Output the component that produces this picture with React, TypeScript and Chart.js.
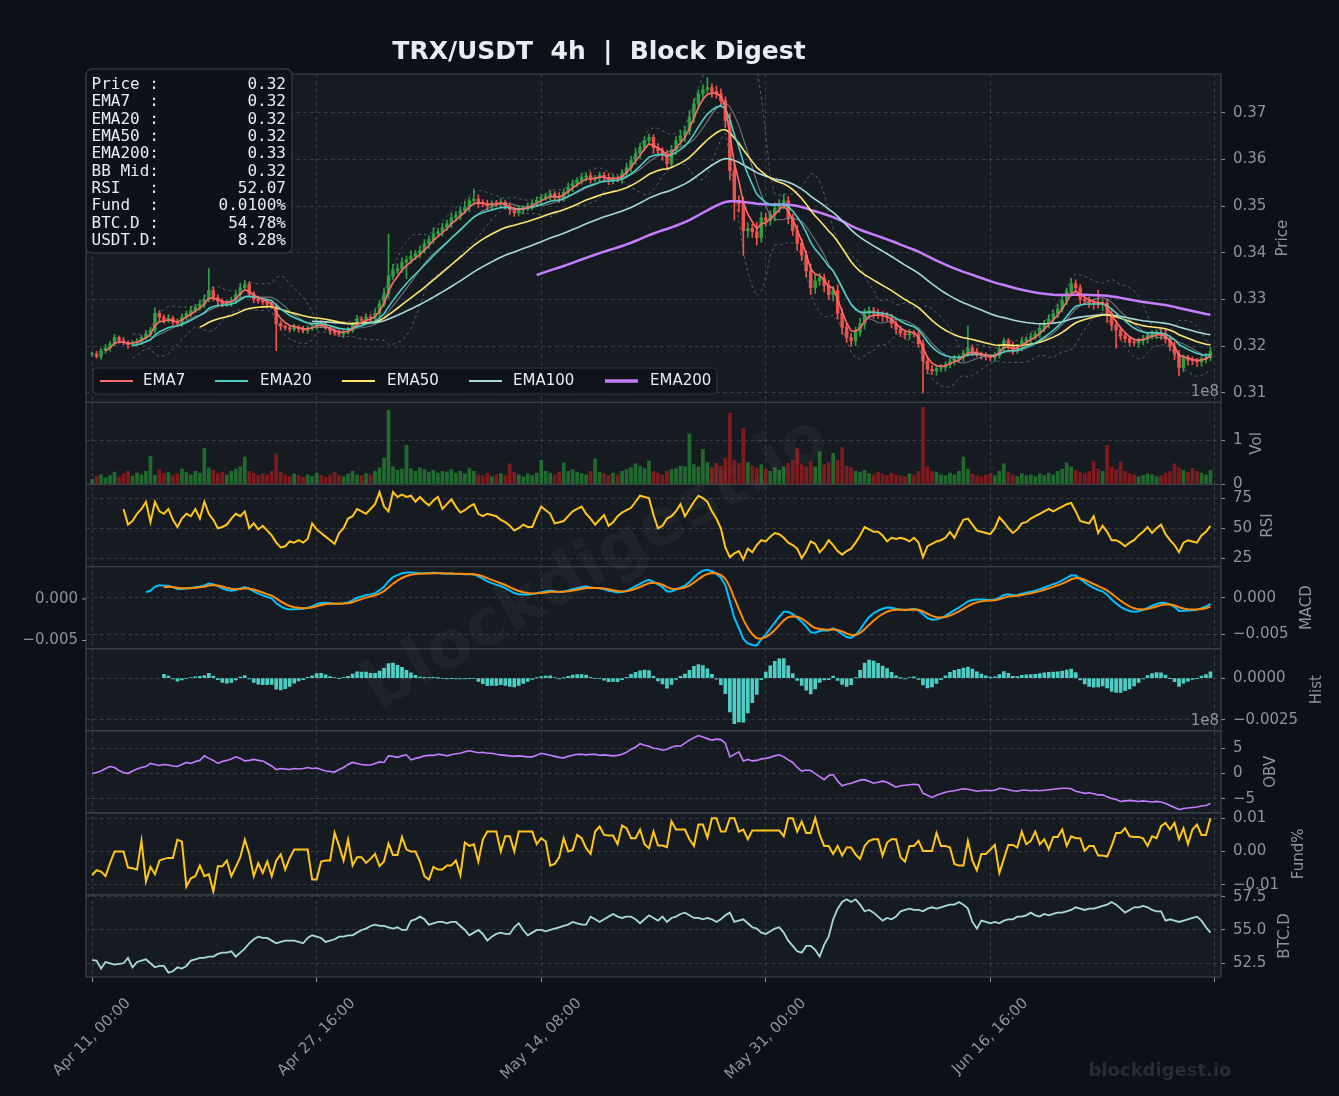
import React, { useEffect, useRef } from 'react';
import { Chart, registerables } from 'chart.js';

Chart.register(...registerables);

const W = 1339;
const H = 1096;

// Each sample spans two 4h bars; x positions are expressed in 4h-bar units.
const BAR_STEP = 2;
const xTickBars = [0, 100, 200, 300, 400, 500];
const xTickLabels = ['Apr 11, 00:00', 'Apr 27, 16:00', 'May 14, 08:00', 'May 31, 00:00', 'Jun 16, 16:00', ''];

// Close prices (x 1e-4 USDT)
const closeE4 = [
  3183, 3178, 3190, 3196, 3205, 3218, 3212, 3208, 3203, 3207,
  3210, 3218, 3225, 3233, 3270, 3262, 3255, 3260, 3252, 3248,
  3262, 3270, 3276, 3283, 3290, 3300, 3319, 3304, 3296, 3290,
  3292, 3297, 3310, 3325, 3332, 3312, 3300, 3297, 3294, 3290,
  3286, 3248, 3242, 3239, 3236, 3240, 3237, 3233, 3238, 3240,
  3250, 3246, 3239, 3232, 3228, 3226, 3230, 3233, 3245, 3258,
  3255, 3262, 3260, 3270, 3290, 3312, 3350, 3361, 3366, 3380,
  3385, 3392, 3398, 3405, 3419, 3428, 3441, 3445, 3454, 3462,
  3475, 3480, 3490, 3498, 3511, 3515, 3508, 3505, 3500, 3506,
  3505, 3508, 3500, 3492, 3486, 3492, 3496, 3500, 3506, 3512,
  3518, 3522, 3526, 3520, 3518, 3530, 3540, 3548, 3555, 3561,
  3565, 3558, 3561, 3566, 3561, 3556, 3560, 3558, 3570, 3582,
  3598, 3612, 3625, 3640, 3647, 3625, 3618, 3612, 3591, 3620,
  3640, 3650, 3661, 3690, 3719, 3740, 3750, 3754, 3745, 3741,
  3726, 3683, 3576, 3512, 3505, 3447, 3452, 3445, 3432, 3475,
  3469, 3482, 3495, 3505, 3511, 3475, 3447, 3420, 3395, 3361,
  3325, 3340, 3346, 3330, 3310, 3319, 3270, 3240, 3218, 3211,
  3230, 3248, 3270, 3276, 3270, 3268, 3264, 3261, 3248, 3236,
  3228, 3224, 3228, 3226, 3205, 3168, 3150, 3147, 3152, 3154,
  3160, 3168, 3172, 3175, 3185, 3196, 3188, 3183, 3180, 3177,
  3175, 3180, 3195, 3211, 3200, 3190, 3198, 3211, 3215, 3220,
  3226, 3238, 3248, 3258, 3269, 3280, 3297, 3315, 3334, 3325,
  3300, 3297, 3293, 3291, 3290, 3292, 3270, 3245, 3235, 3222,
  3216, 3208, 3207, 3211, 3215, 3222, 3226, 3228, 3226, 3215,
  3200, 3183, 3154, 3175, 3170, 3168, 3166, 3172, 3175, 3188,
];

// Upper wick beyond the body (x 1e-4)
const highWickE4 = [
  4, 6, 5, 8, 5, 7, 4, 6, 3, 5,
  6, 5, 8, 7, 12, 6, 5, 8, 4, 6,
  7, 5, 9, 6, 8, 10, 47, 8, 6, 5,
  6, 8, 7, 10, 9, 6, 5, 7, 4, 6,
  5, 4, 6, 3, 5, 7, 4, 6, 5, 8,
  6, 4, 5, 3, 4, 6, 5, 7, 6, 8,
  5, 7, 6, 9, 8, 12, 90, 14, 10, 9,
  8, 12, 7, 10, 9, 8, 12, 7, 9, 8,
  10, 8, 9, 12, 7, 22, 9, 6, 8, 5,
  6, 8, 5, 7, 6, 9, 5, 7, 6, 8,
  7, 6, 8, 5, 9, 7, 10, 8, 6, 9,
  6, 8, 5, 7, 6, 9, 7, 5, 8, 10,
  9, 12, 10, 8, 7, 6, 9, 7, 8, 10,
  9, 12, 10, 14, 11, 9, 10, 21, 8, 12,
  10, 8, 15, 18, 10, 14, 12, 9, 20, 12,
  10, 8, 12, 9, 14, 10, 8, 12, 10, 9,
  15, 12, 10, 8, 11, 9, 12, 10, 8, 9,
  10, 12, 9, 8, 7, 9, 6, 8, 7, 6,
  7, 6, 8, 5, 6, 8, 7, 9, 6, 7,
  6, 5, 8, 7, 6, 47, 5, 7, 4, 6,
  5, 7, 8, 6, 5, 9, 6, 7, 5, 8,
  6, 8, 7, 9, 8, 10, 12, 9, 11, 8,
  7, 6, 8, 6, 29, 7, 8, 10, 9, 7,
  6, 5, 7, 6, 8, 5, 7, 6, 9, 8,
  7, 9, 8, 6, 5, 7, 6, 8, 9, 10,
];

// Lower wick beyond the body (x 1e-4)
const lowWickE4 = [
  5, 4, 6, 5, 7, 4, 6, 5, 8, 4,
  5, 7, 4, 6, 5, 8, 6, 5, 7, 6,
  6, 5, 7, 4, 6, 8, 5, 7, 9, 6,
  5, 7, 6, 8, 5, 6, 7, 5, 6, 8,
  6, 58, 7, 5, 6, 4, 7, 5, 6, 5,
  5, 6, 4, 7, 5, 6, 8, 5, 4, 6,
  6, 5, 7, 6, 8, 5, 9, 7, 6, 8,
  35, 8, 7, 9, 6, 10, 8, 7, 9, 6,
  8, 7, 9, 6, 10, 8, 12, 7, 9, 8,
  7, 9, 6, 10, 8, 7, 9, 6, 8, 7,
  8, 6, 9, 7, 10, 8, 6, 9, 7, 8,
  7, 9, 6, 8, 7, 10, 8, 6, 9, 8,
  9, 8, 10, 7, 9, 12, 8, 14, 10, 9,
  10, 9, 12, 8, 11, 9, 10, 8, 12, 10,
  12, 15, 20, 42, 18, 53, 14, 12, 16, 10,
  12, 10, 14, 9, 11, 13, 10, 15, 12, 14,
  15, 12, 10, 14, 11, 13, 12, 15, 10, 12,
  10, 9, 12, 8, 10, 9, 11, 8, 9, 10,
  8, 9, 10, 7, 8, 69, 9, 8, 10, 7,
  8, 7, 9, 6, 8, 7, 9, 6, 8, 7,
  7, 8, 6, 9, 7, 8, 6, 9, 7, 8,
  6, 8, 7, 9, 6, 8, 7, 9, 8, 10,
  9, 8, 10, 12, 9, 14, 20, 12, 40, 9,
  8, 9, 7, 10, 8, 9, 7, 10, 12, 9,
  10, 12, 18, 9, 11, 8, 10, 9, 8, 7,
];

// Volume (x 1e8)
const volumeE8 = [
  0.12, 0.18, 0.22, 0.15, 0.20, 0.28, 0.17, 0.24, 0.30, 0.19,
  0.26, 0.22, 0.30, 0.64, 0.21, 0.33, 0.25, 0.27, 0.20, 0.24,
  0.35, 0.28, 0.22, 0.30, 0.26, 0.82, 0.38, 0.32, 0.25, 0.28,
  0.22, 0.30, 0.35, 0.40, 0.62, 0.30, 0.26, 0.20, 0.24, 0.22,
  0.30, 0.69, 0.28, 0.22, 0.18, 0.24, 0.20, 0.16, 0.22, 0.18,
  0.26, 0.20, 0.17, 0.22, 0.28, 0.20, 0.18, 0.24, 0.30, 0.22,
  0.20, 0.25, 0.22, 0.30, 0.38, 0.60, 1.69, 0.40, 0.32, 0.35,
  0.89, 0.36, 0.30, 0.38, 0.34, 0.28, 0.32, 0.26, 0.30, 0.28,
  0.34, 0.26, 0.30, 0.24, 0.36, 0.30, 0.22, 0.20, 0.26, 0.18,
  0.22, 0.25, 0.20, 0.47, 0.28, 0.22, 0.18, 0.24, 0.20, 0.26,
  0.55, 0.30, 0.26, 0.22, 0.28, 0.49, 0.30, 0.34, 0.28, 0.25,
  0.22, 0.30, 0.58, 0.28, 0.24, 0.20, 0.26, 0.22, 0.30, 0.34,
  0.38, 0.47, 0.42, 0.36, 0.53, 0.30, 0.26, 0.22, 0.30, 0.34,
  0.36, 0.42, 0.40, 1.15, 0.45, 0.40, 0.80, 0.50, 0.38, 0.48,
  0.42, 0.60, 1.62, 0.55, 0.48, 1.27, 0.50, 0.42, 0.38, 0.45,
  0.35, 0.30, 0.38, 0.32, 0.40, 0.48, 0.55, 0.82, 0.45, 0.40,
  0.52, 0.40, 0.75, 0.45, 0.50, 0.71, 0.55, 0.84, 0.42, 0.38,
  0.30, 0.28, 0.32, 0.25, 0.22, 0.28, 0.24, 0.20, 0.26, 0.22,
  0.20, 0.18, 0.24, 0.22, 0.30, 1.76, 0.40, 0.30, 0.28, 0.22,
  0.20, 0.26, 0.22, 0.30, 0.62, 0.35, 0.24, 0.20, 0.18, 0.22,
  0.25, 0.20, 0.30, 0.47, 0.28, 0.22, 0.18, 0.25, 0.20, 0.22,
  0.18, 0.24, 0.20, 0.26, 0.22, 0.30, 0.35, 0.49, 0.40, 0.32,
  0.28, 0.25, 0.30, 0.52, 0.35, 0.30, 0.89, 0.40, 0.34, 0.51,
  0.30, 0.25, 0.22, 0.18, 0.20, 0.24, 0.22, 0.18, 0.20, 0.26,
  0.30, 0.47, 0.38, 0.32, 0.28, 0.36, 0.30, 0.26, 0.22, 0.32,
];

// RSI(14)
const rsiValues = [
  null, null, null, null, null, null, null, 66, 53, 56,
  62, 66, 72, 55, 72, 64, 62, 66, 57, 51,
  58, 62, 60, 66, 58, 72, 62, 57, 50, 51,
  53, 58, 62, 60, 64, 50, 54, 49, 52, 48,
  44, 38, 34, 35, 39, 38, 40, 38, 41, 54,
  49, 46, 43, 40, 37, 46, 50, 58, 60, 66,
  64, 62, 66, 70, 80, 68, 64, 80, 76, 78,
  76, 77, 72, 76, 72, 69, 73, 76, 66, 70,
  74, 68, 63, 65, 68, 70, 62, 60, 62, 61,
  60, 57, 55, 52, 48, 50, 53, 51, 51, 60,
  68, 65, 62, 54, 55, 56, 60, 64, 66, 68,
  62, 58, 53, 57, 61, 52, 55, 60, 63, 65,
  67, 72, 77, 76, 75, 61, 50, 52, 58, 60,
  64, 70, 60, 66, 72, 77, 75, 72, 64, 58,
  50, 34, 26, 29, 31, 24, 33, 30, 36, 40,
  39, 43, 46, 45, 42, 38, 36, 33, 25, 31,
  39, 37, 30, 34, 40, 36, 31, 28, 31, 33,
  38, 44, 51, 49, 47, 47, 44, 39, 42, 41,
  42, 41, 39, 42, 38, 26, 35, 37, 39, 40,
  42, 47, 42, 50, 57, 58, 53, 48, 47, 46,
  45, 50, 59, 55, 50, 46, 49, 54, 55, 58,
  60, 62, 64, 66, 64, 66, 68, 70, 71, 64,
  56, 55, 54, 60, 46, 52, 47, 40, 40, 38,
  35, 38, 40, 44, 47, 51, 46, 50, 53, 45,
  40, 36, 30, 38, 40, 39, 38, 44, 47, 52,
];

// On-balance volume (x 1e8)
const obvE8 = [
  0, 0.2, 0.5, 1.0, 1.4, 1.2, 0.6, 0.2, 0, 0.5,
  0.9, 1.2, 1.4, 2.0, 1.8, 1.6, 1.8, 1.7, 1.5, 1.4,
  1.8, 2.2, 2.0, 2.4, 2.6, 3.5, 3.0, 2.6, 2.0, 2.4,
  2.6, 2.9, 3.3, 3.0, 2.5, 2.6, 2.8, 2.6, 2.5, 2.0,
  1.5, 0.8, 1.0, 0.9, 0.8, 1.0, 0.9, 1.0, 1.2, 1.0,
  1.1, 0.8, 0.5, 0.4, 0.3, 0.8, 1.2, 1.8, 2.2, 2.0,
  1.8, 1.7, 1.7, 2.0, 2.3, 2.2, 3.5, 3.4, 3.2, 3.5,
  3.7, 2.7, 3.0, 3.2, 3.5, 3.6, 3.6, 3.8, 3.7, 3.5,
  3.7, 3.9, 4.0, 4.3, 4.5, 4.3, 4.1, 4.2, 4.0, 4.0,
  3.8, 3.7, 3.6, 3.5, 3.4, 3.5, 3.4, 3.3, 3.3, 3.6,
  4.0, 3.8, 3.6, 3.4, 3.2, 3.1, 3.4, 3.6, 3.8, 3.8,
  3.7, 3.8, 3.8, 3.6, 3.7, 3.6, 3.5, 3.6, 3.8, 4.2,
  4.8, 5.2, 5.9, 5.6, 5.4, 5.0, 4.9, 4.6, 4.8, 5.2,
  5.5, 5.4, 6.0, 6.6, 7.1, 7.5, 7.2, 6.9, 6.6, 6.8,
  6.7, 6.0, 3.3, 3.8, 4.3, 2.5, 2.8, 2.5, 2.6, 2.9,
  3.0, 3.2, 3.5, 3.7, 3.3, 2.7, 2.2, 1.2, 0.5, 0.7,
  0.6, 0.0, -0.6, -1.2, -0.4, -0.2, -1.5, -2.4, -2.1, -1.9,
  -1.6, -1.3, -1.2, -1.5, -1.9, -1.7, -1.5, -1.7, -2.2, -2.7,
  -2.4, -2.3, -2.2, -2.1, -2.2, -3.9, -4.3, -4.7, -4.3, -4.0,
  -3.7, -3.5, -3.4, -3.2, -3.0, -3.1, -3.3, -3.5, -3.4, -3.3,
  -3.4, -3.3, -2.9, -3.0, -3.2, -3.4, -3.5, -3.3, -3.3, -3.4,
  -3.3, -3.4, -3.3, -3.2, -3.1, -3.0, -2.9, -2.9, -3.0, -3.5,
  -3.7, -3.9, -3.8, -4.0, -4.2, -4.2, -4.6, -4.9, -5.1, -5.5,
  -5.4, -5.3, -5.4, -5.5, -5.4, -5.5, -5.6, -5.5, -5.6, -5.9,
  -6.3, -6.7, -7.1, -6.9, -6.8, -6.7, -6.6, -6.4, -6.3, -5.9,
];

// Funding rate (%, x 1e-4)
const fundingE4 = [
  -71, -56, -60, -74, -35, 0, 0, 0, -48, -50,
  -54, 32, -90, -46, -68, -27, -22, -19, -19, 36,
  30, -105, -80, -74, -42, -74, -68, -120, -44, -44,
  -27, -74, -46, -17, 36, -7, -74, -35, -64, -30,
  -74, -27, -8, -54, -20, 6, 6, 6, 6, -84,
  -84, -30, -27, -27, 56, 17, -27, 36, -42, -17,
  -17, -34, -22, -7, -44, -30, 24, -10, -10, 44,
  6, 0, 0, -30, -74, -84, -46, -54, -54, -42,
  -42, -27, -71, 27, 17, 22, -30, 36, 60, 60,
  60, 0, 46, 46, 0, 60, 60, 60, 60, 22,
  40, 30, -42, -37, -17, 40, 0, 5, 50, 40,
  10, -7, 60, 75, 50, 48, 48, 22, 78, 70,
  40, 40, 66, 22, 10, 60, 18, 18, 13, 91,
  66, 66, 66, 37, 17, 81, 81, 42, 100, 100,
  60, 60, 100, 100, 60, 66, 37, 63, 63, 63,
  63, 63, 63, 63, 46, 100, 100, 60, 90, 56,
  56, 100, 50, 17, 17, -7, 17, -12, 12, 12,
  -9, -22, 17, 32, 37, 37, -12, 27, 37, 37,
  -17, -30, 17, 17, 32, 2, 2, 2, 56, 17,
  17, 12, -37, -42, -42, 32, -27, -56, -7, -7,
  6, 20, -64, -22, 20, 20, 12, 60, 22, 32,
  60, 22, 37, 7, 44, 44, 66, 17, 46, 40,
  40, 2, 17, 17, -12, -12, -15, 17, 56, 56,
  70, 46, 44, 44, 40, 17, 46, 40, 76, 86,
  66, 86, 37, 70, 22, 66, 81, 50, 50, 100,
];

// BTC dominance (%)
const btcDominance = [
  52.73, 52.7, 52.1, 52.6, 52.5, 52.4, 52.45, 52.5, 52.9, 52.2,
  52.6, 52.7, 52.8, 52.5, 52.2, 52.3, 52.3, 51.8, 51.9, 52.2,
  52.1, 52.3, 52.7, 52.8, 52.9, 52.9, 53.0, 53.0, 53.2, 53.3,
  53.3, 53.4, 53.0, 53.3, 53.6, 54.0, 54.3, 54.5, 54.4, 54.4,
  54.2, 54.0, 54.1, 54.2, 54.2, 54.2, 54.1, 54.0, 54.4, 54.6,
  54.5, 54.4, 54.1, 54.2, 54.3, 54.5, 54.5, 54.6, 54.6, 54.8,
  55.0, 55.1, 55.3, 55.4, 55.3, 55.3, 55.2, 55.1, 55.2, 55.0,
  55.0, 55.7, 55.8, 56.0, 55.8, 55.4, 55.5, 55.6, 55.6, 55.5,
  55.6, 55.6, 55.3, 55.0, 54.6, 54.8, 55.0, 54.7, 54.2, 54.5,
  54.7, 54.8, 54.7, 54.7, 55.2, 55.5, 55.0, 54.6, 54.8, 55.0,
  55.0, 54.9, 55.0, 55.1, 55.2, 55.3, 55.4, 55.6, 55.5, 55.4,
  55.4, 56.0, 55.8, 55.6, 55.8, 56.0, 56.2, 56.0, 55.9, 56.0,
  56.0, 55.8, 55.5, 55.8, 56.1, 55.9, 55.7, 56.0, 55.6, 55.9,
  56.0, 56.2, 56.3, 56.1, 55.9, 55.9, 55.8, 55.9, 55.8, 55.6,
  55.8, 56.1, 56.3, 55.6, 55.7, 55.8, 55.5, 55.2, 55.1, 54.8,
  54.7, 54.9, 55.1, 55.2, 54.8, 54.2, 53.8, 53.4, 53.3, 53.8,
  53.8, 53.5, 53.0, 53.9, 54.5, 55.8, 56.6, 57.1, 57.3, 57.1,
  57.3, 56.9, 56.4, 56.5, 56.3, 56.0, 55.7, 55.9, 55.8, 56.0,
  56.4, 56.5, 56.6, 56.5, 56.5, 56.4, 56.6, 56.7, 56.6, 56.7,
  56.8, 56.9, 56.9, 57.1, 56.9, 56.6, 55.6, 55.1, 55.7, 55.6,
  55.5, 55.6, 55.5, 55.7, 55.8, 55.8, 56.0, 56.0, 56.1, 56.3,
  56.1, 56.0, 56.2, 56.1, 56.2, 56.3, 56.3, 56.4, 56.5, 56.7,
  56.6, 56.5, 56.6, 56.6, 56.7, 56.8, 56.9, 57.1, 56.9, 56.6,
  56.3, 56.5, 56.7, 56.7, 56.8, 56.7, 56.5, 56.4, 56.4, 55.7,
  55.8, 55.7, 55.6, 55.7, 55.8, 55.9, 56.0, 55.7, 55.2, 54.8,
];

const infoLabels = ['Price :', 'EMA7  :', 'EMA20 :', 'EMA50 :', 'EMA200:', 'BB Mid:', 'RSI   :', 'Fund  :', 'BTC.D :', 'USDT.D:'];
const infoValues = ['0.32', '0.32', '0.32', '0.32', '0.33', '0.32', '52.07', '0.0100%', '54.78%', '8.28%'];

const legendLabels = ['EMA7', 'EMA20', 'EMA50', 'EMA100', 'EMA200'];

// ---------- styling ----------
const FONT = "'DejaVu Sans', 'Liberation Sans', sans-serif";
const MONO = "'DejaVu Sans Mono', 'Liberation Mono', monospace";
const C = {
  fig: '#0d1117',
  panel: '#161b22',
  border: '#3a4048',
  grid: 'rgba(139,148,158,0.26)',
  tick: '#8b949e',
  text: '#e6edf3',
  ema7: '#ff6b6b',
  ema20: '#4ecdc4',
  ema50: '#ffe66d',
  ema100: '#a8dadc',
  ema200: '#c77dff',
  up: '#2ea043',
  down: '#f0514a',
  volUp: 'rgba(40,160,55,0.6)',
  volDown: 'rgba(190,28,28,0.62)',
  bb: 'rgba(139,148,158,0.55)',
  bbMid: 'rgba(139,148,158,0.75)',
  gold: '#ffc61a',
  macd: '#00bfff',
  signal: '#ff8c00',
  hist: '#4ecdc4',
  obv: '#c77dff',
  btc: '#a8dadc',
};
const legendColors = [C.ema7, C.ema20, C.ema50, C.ema100, C.ema200];
const legendWidths = [2.2, 2.2, 2.2, 2.2, 3.4];
const legendLineX = [100, 215, 342, 469, 605];
const legendTextX = [143, 260, 387, 513, 650];

const minus = (v: number, d: number) => (v < 0 ? '\u2212' + Math.abs(v).toFixed(d) : v.toFixed(d));

const PANELS = [
  { id: 'yPrice', weight: 4, min: 0.30794, max: 0.37829, ticks: [0.31, 0.32, 0.33, 0.34, 0.35, 0.36, 0.37], fmt: (v: number) => v.toFixed(2), title: 'Price', titleX: 1283 },
  { id: 'yVol', weight: 1, min: 0, max: 1.866, ticks: [0, 1], fmt: (v: number) => v.toFixed(0), title: 'Vol', titleX: 1257 },
  { id: 'yRsi', weight: 1, min: 18.1, max: 86.4, ticks: [25, 50, 75], fmt: (v: number) => v.toFixed(0), title: 'RSI', titleX: 1268 },
  { id: 'yMacd', weight: 1, min: -0.00699, max: 0.00426, ticks: [-0.005, 0], fmt: (v: number) => minus(v, 3), title: 'MACD', titleX: 1307 },
  { id: 'yHist', weight: 1, min: -0.00315, max: 0.00177, ticks: [-0.0025, 0], fmt: (v: number) => minus(v, 4), title: 'Hist', titleX: 1317 },
  { id: 'yObv', weight: 1, min: -7.75, max: 8.46, ticks: [-5, 0, 5], fmt: (v: number) => minus(v, 0), title: 'OBV', titleX: 1271 },
  { id: 'yFund', weight: 1, min: -0.013, max: 0.01162, ticks: [-0.01, 0, 0.01], fmt: (v: number) => minus(v, 2), title: 'Fund%', titleX: 1299 },
  { id: 'yBtc', weight: 1, min: 51.47, max: 57.63, ticks: [52.5, 55, 57.5], fmt: (v: number) => v.toFixed(1), title: 'BTC.D', titleX: 1285 },
];
// left-hand twin labels of the MACD panel
const MACD_LEFT = { min: -0.00598, max: 0.0039, ticks: [-0.005, 0] };

// ---------- derived series ----------
function emaSeries(src: number[], span: number): number[] {
  const a = 2 / (span + 1);
  const k = 1 - Math.pow(1 - a, BAR_STEP);
  const out: number[] = [];
  let prev = src[0];
  for (let i = 0; i < src.length; i++) {
    prev = i === 0 ? src[0] : k * src[i] + (1 - k) * prev;
    out.push(prev);
  }
  return out;
}

function bollinger(src: number[], w: number) {
  const mid: (number | null)[] = [];
  const up: (number | null)[] = [];
  const lo: (number | null)[] = [];
  for (let i = 0; i < src.length; i++) {
    if (i < w - 1) { mid.push(null); up.push(null); lo.push(null); continue; }
    const win = src.slice(i - w + 1, i + 1);
    const m = win.reduce((s, v) => s + v, 0) / w;
    const sd = Math.sqrt(win.reduce((s, v) => s + (v - m) * (v - m), 0) / (w - 1));
    mid.push(m); up.push(m + 2 * sd); lo.push(m - 2 * sd);
  }
  return { mid, up, lo };
}

const pts = (vals: (number | null)[], from = 0) =>
  vals
    .map((v, i) => ({ x: i * BAR_STEP, y: v }))
    .filter((p, i) => i >= from && p.y !== null && p.y !== undefined);

function buildDatasets() {
  const close = closeE4.map((v) => v / 1e4);
  const open = close.map((c, i) => (i === 0 ? c : close[i - 1]));
  const hi = close.map((c, i) => Math.max(c, open[i]) + highWickE4[i] / 1e4);
  const lo = close.map((c, i) => Math.min(c, open[i]) - lowWickE4[i] / 1e4);
  const isUp = close.map((c, i) => c >= open[i]);
  const candleColors = isUp.map((u) => (u ? C.up : C.down));

  const ema7 = emaSeries(close, 7);
  const ema20 = emaSeries(close, 20);
  const ema50 = emaSeries(close, 50);
  const ema100 = emaSeries(close, 100);
  const ema200 = emaSeries(close, 200);
  const bb = bollinger(close, 10);

  const e12 = emaSeries(close, 12);
  const e26 = emaSeries(close, 26);
  const macd = e12.map((v, i) => v - e26[i]);
  const signal = emaSeries(macd, 9);
  const hist = macd.map((v, i) => v - signal[i]);

  const line = (label: string, data: any[], yAxisID: string, color: string, width: number, order: number, extra: any = {}) => ({
    type: 'line', label, data, yAxisID, borderColor: color, borderWidth: width, pointRadius: 0,
    pointHoverRadius: 0, tension: 0, fill: false, order, ...extra,
  });

  return [
    line('EMA7', pts(ema7, 3), 'yPrice', C.ema7, 1.6, 1),
    line('EMA20', pts(ema20, 9), 'yPrice', C.ema20, 1.6, 1),
    line('EMA50', pts(ema50, 24), 'yPrice', C.ema50, 1.6, 1),
    line('EMA100', pts(ema100, 49), 'yPrice', C.ema100, 1.6, 1),
    line('EMA200', pts(ema200, 99), 'yPrice', C.ema200, 2.5, 1),
    line('BB Mid', pts(bb.mid, 9), 'yPrice', C.bbMid, 1.1, 3),
    line('BB Upper', pts(bb.up, 9), 'yPrice', C.bb, 1, 3, { borderDash: [3, 3] }),
    line('BB Lower', pts(bb.lo, 9), 'yPrice', C.bb, 1, 3, { borderDash: [3, 3] }),
    {
      type: 'bar', label: 'Body', yAxisID: 'yPrice', grouped: false, order: 6,
      data: close.map((c, i) => ({ x: i * BAR_STEP, y: [open[i], c] })),
      backgroundColor: candleColors, borderWidth: 0, barThickness: 2.8, minBarLength: 1,
    },
    {
      type: 'bar', label: 'Wick', yAxisID: 'yPrice', grouped: false, order: 7,
      data: close.map((_, i) => ({ x: i * BAR_STEP, y: [lo[i], hi[i]] })),
      backgroundColor: candleColors, borderWidth: 0, barThickness: 1,
    },
    {
      type: 'bar', label: 'Volume', yAxisID: 'yVol', grouped: false, order: 5,
      data: volumeE8.map((v, i) => ({ x: i * BAR_STEP, y: v })),
      backgroundColor: isUp.map((u) => (u ? C.volUp : C.volDown)), borderWidth: 0, barThickness: 3,
    },
    line('RSI', pts(rsiValues), 'yRsi', C.gold, 2, 1),
    line('MACD', pts(macd, 12), 'yMacd', C.macd, 2, 2),
    line('Signal', pts(signal, 16), 'yMacd', C.signal, 2, 1),
    {
      type: 'bar', label: 'Hist', yAxisID: 'yHist', grouped: false, order: 5,
      data: hist.map((v, i) => ({ x: i * BAR_STEP, y: v })).filter((_, i) => i >= 16),
      backgroundColor: C.hist, borderWidth: 0, barThickness: 3,
    },
    line('OBV', pts(obvE8), 'yObv', C.obv, 1.6, 1),
    line('Fund%', pts(fundingE4.map((v) => v / 1e4)), 'yFund', C.gold, 2, 1),
    line('BTC.D', pts(btcDominance), 'yBtc', C.btc, 1.8, 1),
  ];
}

const chromePlugin = {
  id: 'chrome',
  beforeDraw(chart: any) {
    const { ctx, chartArea: a } = chart;
    ctx.save();
    ctx.fillStyle = C.fig;
    ctx.fillRect(0, 0, chart.width, chart.height);
    ctx.fillStyle = C.panel;
    ctx.fillRect(a.left, a.top, a.right - a.left, a.bottom - a.top);
    ctx.restore();
  },
  afterDraw(chart: any) {
    const { ctx, chartArea: a } = chart;
    ctx.save();

    // panel frames
    ctx.strokeStyle = C.border;
    ctx.lineWidth = 1.2;
    for (const p of PANELS) {
      const s = chart.scales[p.id];
      ctx.strokeRect(a.left, s.top, a.right - a.left, s.bottom - s.top);
    }

    // y titles
    ctx.fillStyle = C.tick;
    ctx.font = `15px ${FONT}`;
    ctx.textAlign = 'center';
    ctx.textBaseline = 'middle';
    for (const p of PANELS) {
      const s = chart.scales[p.id];
      ctx.save();
      ctx.translate(p.titleX, (s.top + s.bottom) / 2);
      ctx.rotate(-Math.PI / 2);
      ctx.fillText(p.title, 0, 0);
      ctx.restore();
    }

    // MACD left twin labels
    const sm = chart.scales.yMacd;
    ctx.textAlign = 'right';
    ctx.strokeStyle = C.tick;
    ctx.lineWidth = 1;
    for (const v of MACD_LEFT.ticks) {
      const y = sm.top + ((MACD_LEFT.max - v) / (MACD_LEFT.max - MACD_LEFT.min)) * (sm.bottom - sm.top);
      ctx.beginPath();
      ctx.moveTo(a.left - 4, y);
      ctx.lineTo(a.left, y);
      ctx.stroke();
      ctx.fillText(minus(v, 3), a.left - 8, y);
    }

    // offset texts
    ctx.textAlign = 'right';
    ctx.fillText('1e8', 1219, chart.scales.yVol.top - 10);
    ctx.fillText('1e8', 1219, chart.scales.yObv.top - 10);

    // x tick labels (rotated 45deg, centred on tick)
    const xs = chart.scales.x;
    ctx.font = `15px ${FONT}`;
    ctx.textAlign = 'center';
    ctx.textBaseline = 'middle';
    xTickBars.forEach((b, i) => {
      const lab = xTickLabels[i];
      if (!lab) return;
      const px = xs.getPixelForValue(b);
      const w = ctx.measureText(lab).width;
      const cy = a.bottom + 18 + ((w + 17) * Math.SQRT1_2) / 2;
      ctx.save();
      ctx.translate(px, cy);
      ctx.rotate(-Math.PI / 4);
      ctx.fillText(lab, 0, 0);
      ctx.restore();
    });

    // legend
    const lgTop = 368, lgBottom = 394;
    ctx.fillStyle = 'rgba(13,17,23,0.82)';
    ctx.strokeStyle = '#30363d';
    ctx.lineWidth = 1.2;
    ctx.beginPath();
    ctx.roundRect(93, lgTop, 717 - 93, lgBottom - lgTop, 4);
    ctx.fill();
    ctx.stroke();
    ctx.font = `15px ${FONT}`;
    ctx.textAlign = 'left';
    ctx.textBaseline = 'middle';
    const lgY = (lgTop + lgBottom) / 2;
    legendLabels.forEach((lab, i) => {
      ctx.strokeStyle = legendColors[i];
      ctx.lineWidth = legendWidths[i];
      ctx.beginPath();
      ctx.moveTo(legendLineX[i], lgY);
      ctx.lineTo(legendLineX[i] + 33, lgY);
      ctx.stroke();
      ctx.fillStyle = C.text;
      ctx.fillText(lab, legendTextX[i], lgY);
    });

    // info box
    ctx.fillStyle = 'rgba(13,17,23,0.88)';
    ctx.strokeStyle = '#30363d';
    ctx.lineWidth = 1.5;
    ctx.beginPath();
    ctx.roundRect(86, 69, 206, 184, 6);
    ctx.fill();
    ctx.stroke();
    ctx.fillStyle = C.text;
    ctx.font = `16px ${MONO}`;
    ctx.textBaseline = 'alphabetic';
    infoLabels.forEach((lab, i) => {
      const y = 89 + i * 17.33;
      ctx.textAlign = 'left';
      ctx.fillText(lab, 91.5, y);
      ctx.textAlign = 'right';
      ctx.fillText(infoValues[i], 286, y);
    });

    // title
    ctx.fillStyle = C.text;
    ctx.font = `bold 25px ${FONT}`;
    ctx.textAlign = 'center';
    ctx.textBaseline = 'middle';
    ctx.fillText('TRX/USDT  4h  |  Block Digest', 599, 52);

    // watermarks
    ctx.save();
    ctx.translate(597, 565);
    ctx.rotate((-30 * Math.PI) / 180);
    ctx.font = `bold 66px ${FONT}`;
    ctx.fillStyle = 'rgba(255,255,255,0.035)';
    ctx.fillText('blockdigest.io', 0, 0);
    ctx.restore();

    ctx.font = `bold 18px ${FONT}`;
    ctx.fillStyle = '#272d35';
    ctx.fillText('blockdigest.io', 1160, 1071);

    ctx.restore();
  },
};

function buildScales() {
  const scales: any = {
    x: {
      type: 'linear',
      position: 'bottom',
      min: -2.7,
      max: 502.7,
      offset: false,
      afterBuildTicks: (s: any) => { s.ticks = xTickBars.map((v) => ({ value: v })); },
      afterFit: (s: any) => { s.height = H - 977; },
      ticks: { display: false },
      grid: { color: C.grid, lineWidth: 1, tickLength: 5, tickColor: C.tick, offset: false, drawTicks: true },
      border: { display: false, dash: [4, 3] },
    },
  };
  for (const p of PANELS) {
    scales[p.id] = {
      type: 'linear',
      position: 'right',
      stack: 'panels',
      stackWeight: p.weight,
      min: p.min,
      max: p.max,
      beginAtZero: false,
      afterBuildTicks: (s: any) => { s.ticks = p.ticks.map((v) => ({ value: v })); },
      afterFit: (s: any) => { s.width = W - 1221; },
      ticks: {
        color: C.tick,
        font: { family: FONT, size: 15 },
        padding: 8,
        autoSkip: false,
        callback: (v: any) => p.fmt(Number(v)),
      },
      grid: { color: C.grid, lineWidth: 1, tickLength: 4, tickColor: C.tick, drawTicks: true },
      border: { display: false, dash: [4, 3] },
    };
  }
  return scales;
}

export default function App() {
  const ref = useRef<HTMLCanvasElement | null>(null);
  useEffect(() => {
    const canvas = ref.current;
    if (!canvas) return;
    Chart.defaults.font.family = FONT;
    const chart = new Chart(canvas, {
      type: 'line',
      data: { datasets: buildDatasets() as any },
      options: {
        animation: false,
        responsive: false,
        maintainAspectRatio: false,
        devicePixelRatio: 1,
        events: [],
        layout: { padding: { left: 86, top: 74, right: 0, bottom: 0 } },
        plugins: { legend: { display: false }, tooltip: { enabled: false }, title: { display: false } },
        scales: buildScales(),
      } as any,
      plugins: [chromePlugin as any],
    });
    return () => chart.destroy();
  }, []);
  return (
    <div style={{ position: 'fixed', left: 0, top: 0, width: W, height: H, background: C.fig }}>
      <canvas ref={ref} width={W} height={H} style={{ width: W, height: H, display: 'block' }} />
    </div>
  );
}
